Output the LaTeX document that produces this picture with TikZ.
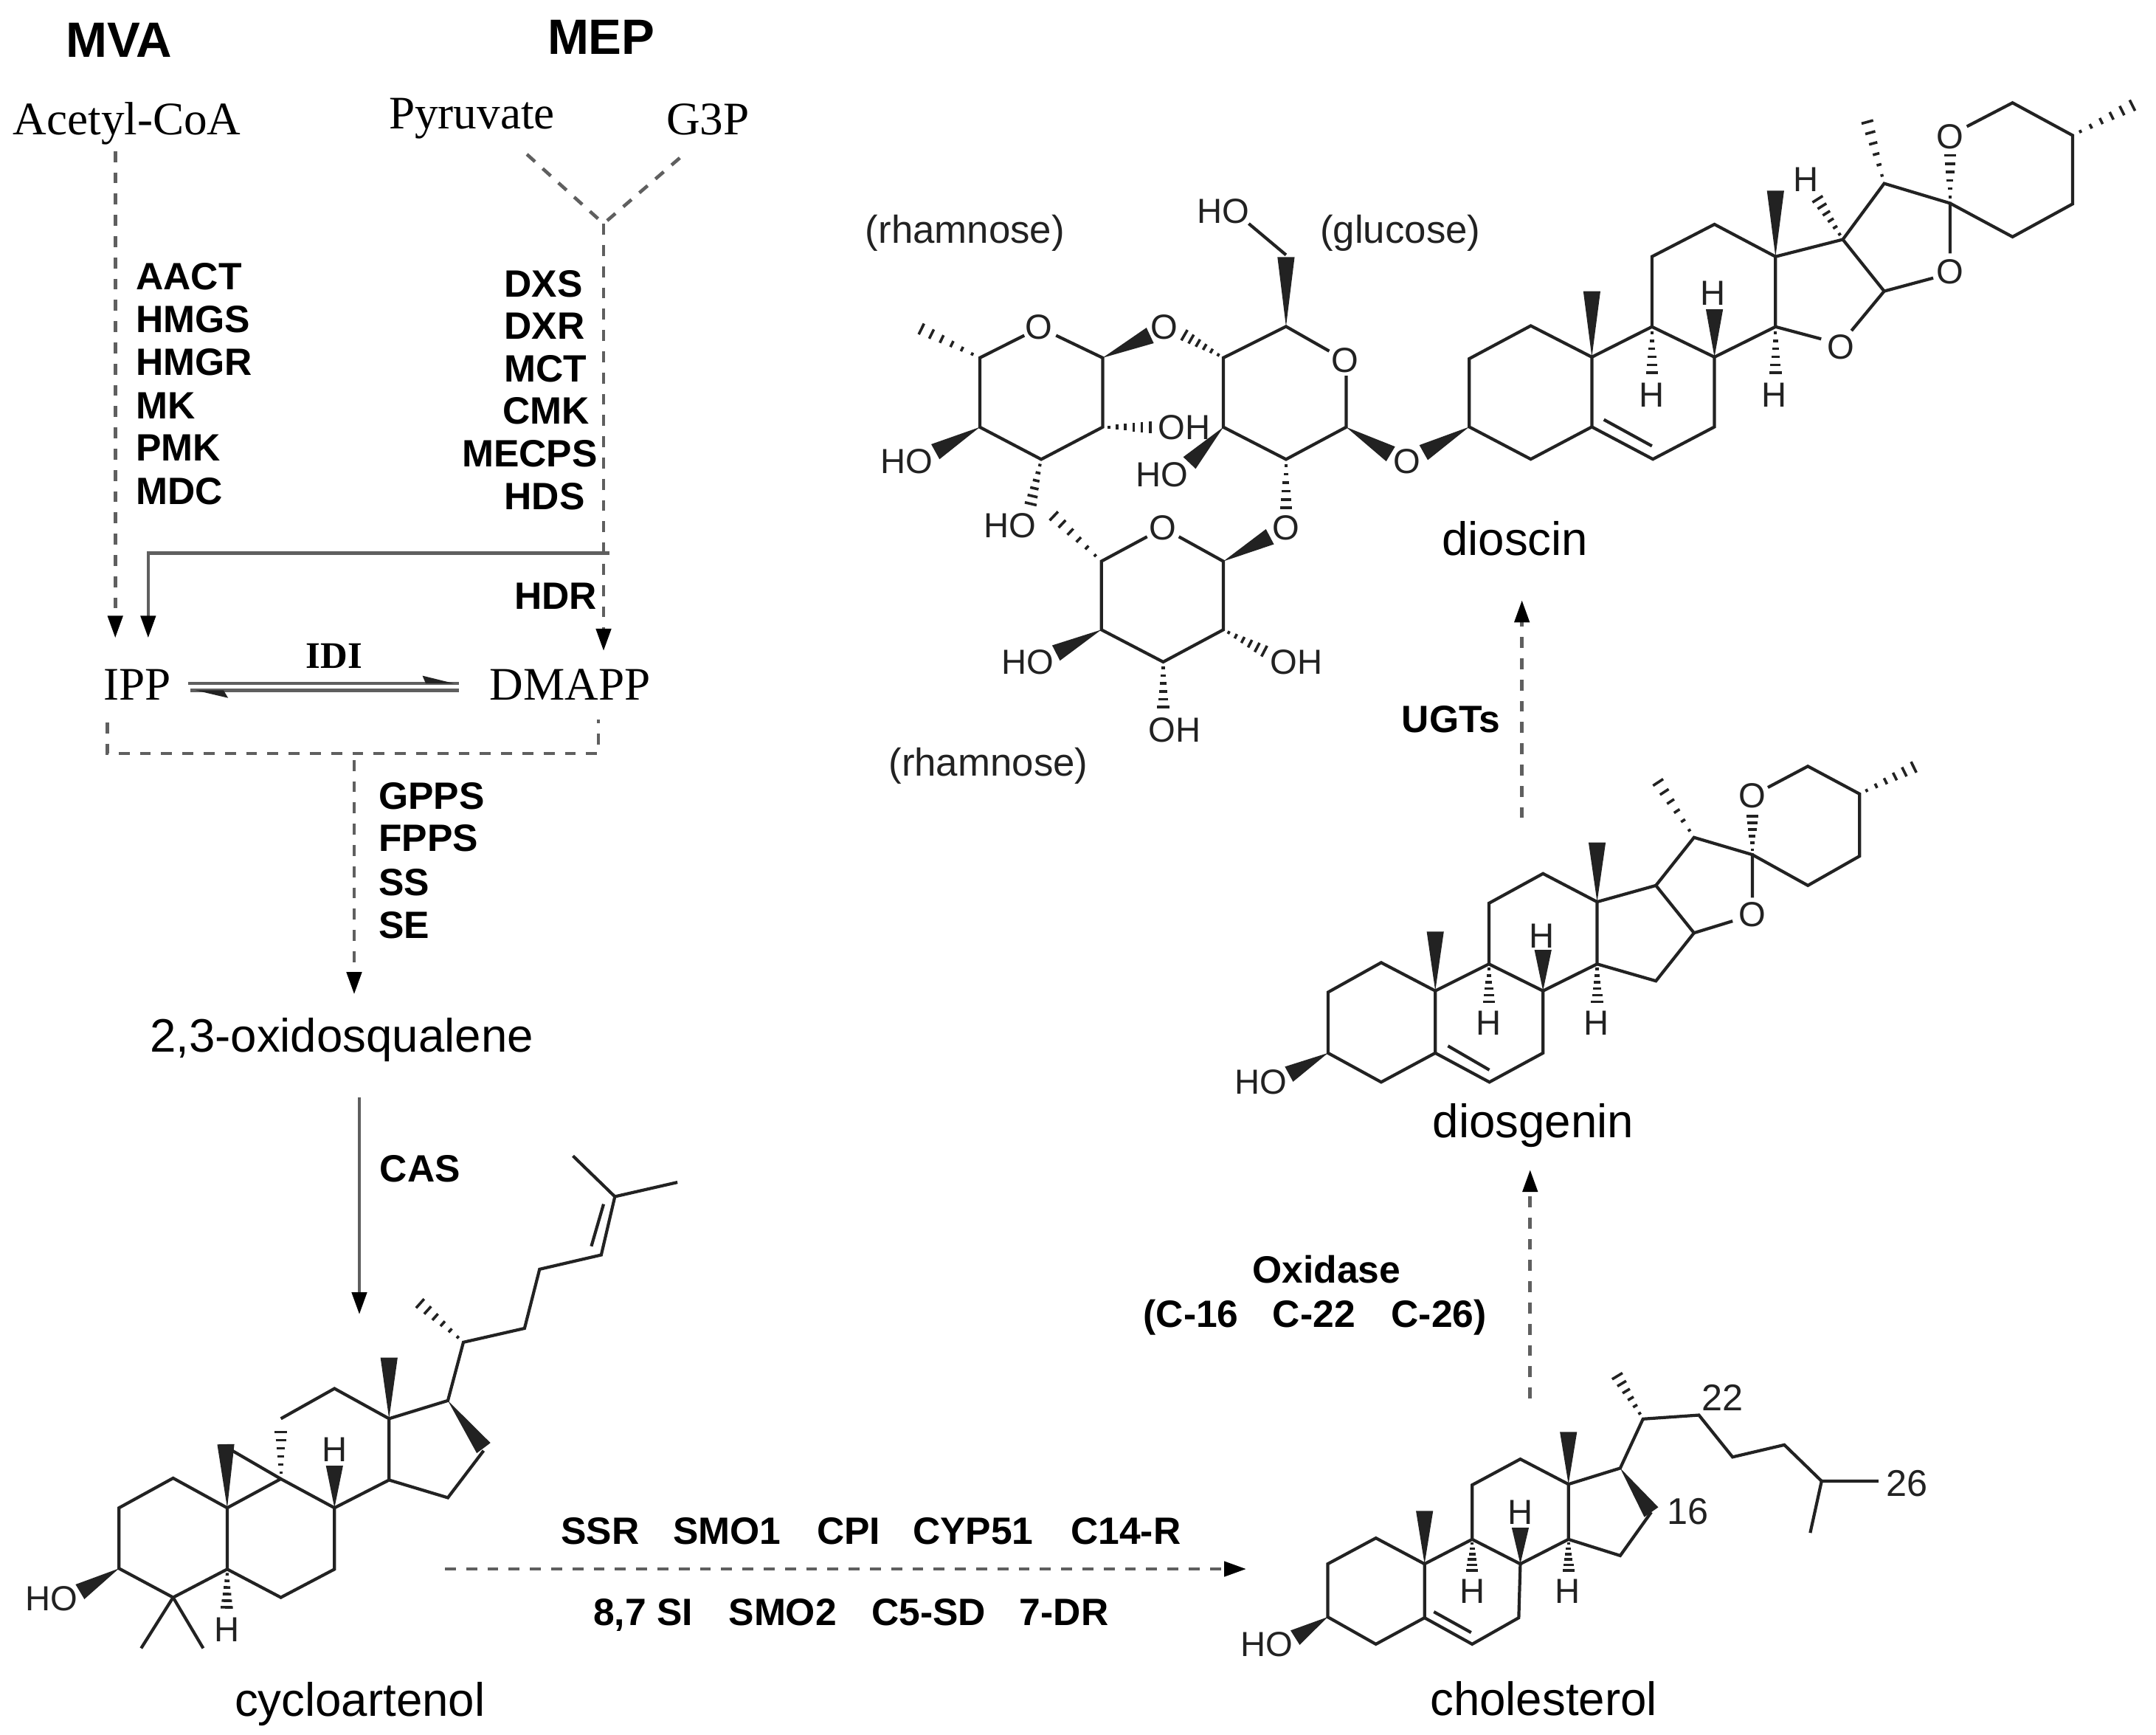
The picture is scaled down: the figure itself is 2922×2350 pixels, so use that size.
\documentclass[tikz,border=0pt]{standalone}
\usepackage{fontspec}
\setmainfont{Liberation Sans}
\newfontfamily\tms{Liberation Serif}
\usetikzlibrary{calc,arrows.meta}
\definecolor{ink}{HTML}{222222}
\definecolor{dashc}{HTML}{5F5F5F}
\tikzset{
  bond/.style={line width=1.05pt,draw=ink,line join=miter,line cap=butt},
  hashb/.style={line width=0.9pt,draw=ink,line cap=butt},
  atom/.style={inner sep=0pt,font=\fontsize{11.8}{14}\selectfont,text=ink},
  num/.style={inner sep=0pt,font=\fontsize{12.6}{15}\selectfont,text=ink},
  sugar/.style={inner sep=0pt,font=\fontsize{13.2}{16}\selectfont,text=ink},
  cpd/.style={inner sep=0pt,font=\fontsize{15.9}{19}\selectfont,text=black},
  precursor/.style={inner sep=0pt,font=\tms\fontsize{15.8}{19}\selectfont,text=black},
  enz/.style={inner sep=0pt,text height=9.3pt,text depth=0pt,font=\bfseries\fontsize{12.9}{15}\selectfont,text=black},
  enzw/.style={enz,anchor=west},
  title/.style={inner sep=0pt,font=\bfseries\fontsize{16.8}{20}\selectfont,text=black},
  dashline/.style={line width=1.15pt,draw=dashc,dash pattern=on 3.7pt off 3.5pt},
  solidline/.style={line width=1.15pt,draw=dashc},
  tip/.style={-{Triangle[length=7.5pt,width=5pt,fill=black,color=black]}},
}
\newcommand\wdg[2]{\coordinate (wA) at (#1);\coordinate (wB) at (#2);
  \fill[ink] (wA) -- ($(wB)!2.9pt!90:(wA)$) -- ($(wB)!2.9pt!-90:(wA)$) -- cycle;}
\newcommand\hsh[2]{\coordinate (wA) at (#1);\coordinate (wB) at (#2);
  \foreach \t in {0.12,0.28,0.44,0.6,0.76,0.92}{
    \coordinate (wP) at ($(wA)!\t!(wB)$);
    \pgfmathsetmacro\hw{0.3+1.9*\t}
    \draw[hashb] ($(wP)!\hw pt!90:(wB)$) -- ($(wP)!\hw pt!-90:(wB)$);}}
\begin{document}
\begin{tikzpicture}[x=0.25pt,y=-0.25pt]
\useasboundingbox (0,0) rectangle (2922,2350);
\fill[white] (0,0) rectangle (2922,2350);

% ---------- upper left: MVA / MEP
\begin{scope}[shift={(0,0)},x=0.25pt/1.568,y=-0.25pt/1.425]
\node[title] (mva) at (253,78) {MVA};
\node[title] (mep) at (1278,72) {MEP};
\node[precursor] (acetyl) at (270,239) {Acetyl-CoA};
\node[precursor] (pyr) at (1003,229) {Pyruvate};
\node[precursor] (g3p) at (1505,230) {G3P};
\node[precursor] (ipp) at (292,1322) {IPP};
\node[precursor] (dmapp) at (1212,1322) {DMAPP};
\node[inner sep=0pt,font=\tms\bfseries\fontsize{12.7}{15}\selectfont] (idi) at (710,1267) {IDI};
\node[enzw] (aact) at (288,533) {AACT};
\node[enzw] (hmgs) at (288,615) {HMGS};
\node[enzw] (hmgr) at (288,698) {HMGR};
\node[enzw] (mk) at (288,782) {MK};
\node[enzw] (pmk) at (288,863) {PMK};
\node[enzw] (mdc) at (288,947) {MDC};
\node[enzw] (dxs) at (1071,547) {DXS};
\node[enzw] (dxr) at (1071,629) {DXR};
\node[enzw] (mct) at (1071,711) {MCT};
\node[enzw] (cmk) at (1068,793) {CMK};
\node[enzw] (mecps) at (981,875) {MECPS};
\node[enzw] (hds) at (1071,957) {HDS};
\node[enzw] (hdr) at (1092,1150) {HDR};
\coordinate (acS) at (245,292);
\coordinate (ippA) at (245,1232);
\coordinate (pyS) at (1120,298);
\coordinate (g3S) at (1445,305);
\coordinate (junc) at (1283,432);
\coordinate (dmA) at (1283,1257);
\coordinate (brR) at (1295,1068);
\coordinate (brL) at (315,1068);
\coordinate (ippB) at (315,1232);
\coordinate (b1) at (228,1395);
\coordinate (b2) at (228,1455);
\coordinate (b3) at (1272,1455);
\coordinate (b4) at (1272,1390);
\draw[dashline,tip] (acS) -- (ippA);
\draw[dashline] (pyS) -- (junc);
\draw[dashline] (g3S) -- (junc);
\draw[dashline,tip] (junc) -- (dmA);
\draw[solidline,tip] (brR) -- (brL) -- (ippB);
\draw[dashline] (b1) -- (b2) -- (b3) -- (b4);
\coordinate (eqA) at (400,1320);
\coordinate (eqB) at (975,1320);
\coordinate (eqC) at (975,1333);
\coordinate (eqD) at (405,1333);
\draw[solidline] (eqA) -- (eqB);
\draw[solidline] (eqC) -- (eqD);
\fill[ink] (898,1305) -- (965,1320) -- (905,1320) -- cycle;
\fill[ink] (415,1333) -- (485,1348) -- (475,1333) -- cycle;
\end{scope}

% ---------- squalene step
\begin{scope}[shift={(400,1000)},x=0.25pt/3,y=-0.25pt/2.851]
\node[enzw] (gpps) at (337,222) {GPPS};
\node[enzw] (fpps) at (337,385) {FPPS};
\node[enzw] (ss) at (337,555) {SS};
\node[enzw] (se) at (337,720) {SE};
\coordinate (sqS) at (240,85);
\coordinate (sqE) at (240,990);
\draw[dashline,tip] (sqS) -- (sqE);
\end{scope}
\node[cpd] (oxs) at (463,1409) {2,3-oxidosqualene};
\coordinate (casS) at (487,1487);
\coordinate (casE) at (487,1781);
\draw[solidline,tip] (casS) -- (casE);

% ---------- sugars
\begin{scope}[shift={(1150,100)},x=0.25pt/1.742,y=-0.25pt/1.65]
\node[sugar] (rh1) at (275,356) {(rhamnose)};
\node[sugar] (glc) at (1303,356) {(glucose)};
\node[sugar] (rh2) at (330,1547) {(rhamnose)};
\node[atom] (o1) at (450,567) {O};
\node[atom] (o2) at (745,567) {O};
\node[atom] (oh1) at (793,790) {OH};
\node[atom] (ho1) at (137,866) {HO};
\node[atom] (ho2) at (382,1010) {HO};
\node[atom] (o3) at (1172,640) {O};
\node[atom] (ho3) at (885,308) {HO};
\node[atom] (o4) at (1318,866) {O};
\node[atom] (ho4) at (740,897) {HO};
\node[atom] (o5) at (1032,1015) {O};
\node[atom] (o6) at (742,1015) {O};
\node[atom] (ho5) at (423,1316) {HO};
\node[atom] (oh2) at (1058,1316) {OH};
\node[atom] (oh3) at (770,1467) {OH};
\draw[bond] (415,585) -- (310,635) -- (310,790) -- (455,862) -- (600,790) -- (600,635) -- (490,585);
\hsh{310,635}{160,565}
\wdg{600,635}{712,585}
\hsh{885,635}{785,580}
\hsh{600,790}{722,790}
\wdg{310,790}{205,845}
\hsh{455,862}{428,970}
\draw[bond] (1135,620) -- (1033,565) -- (885,635) -- (885,790) -- (1033,862) -- (1175,790) -- (1175,675);
\wdg{1033,565}{1033,410}
\draw[bond] (1033,405) -- (945,335);
\wdg{1175,790}{1280,850}
\wdg{885,790}{805,870}
\hsh{1033,862}{1033,980}
\draw[bond] (705,1035) -- (597,1090) -- (597,1243) -- (743,1315) -- (885,1243) -- (885,1090) -- (780,1035);
\hsh{597,1090}{475,980}
\wdg{885,1090}{995,1035}
\wdg{597,1243}{490,1295}
\hsh{885,1243}{990,1295}
\hsh{743,1315}{743,1425}
\end{scope}

% ---------- dioscin aglycone
\begin{scope}[shift={(1900,100)},x=0.25pt/1.534,y=-0.25pt/2.24]
\node[cpd] (dioscin) at (235,1410) {dioscin};
\node[atom] (d1) at (1140,190) {O};
\node[atom] (d2) at (1140,600) {O};
\node[atom] (d3) at (913,830) {O};
\node[atom] (dh1) at (840,322) {H};
\node[atom] (dh2) at (647,665) {H};
\node[atom] (dh3) at (520,975) {H};
\node[atom] (dh4) at (775,975) {H};
\wdg{140,1072}{45,1150}
\draw[bond] (140,1072) -- (140,865) -- (268,765) -- (395,860) -- (395,1072) -- (268,1170) -- cycle;
\draw[bond] (395,860) -- (520,768) -- (650,860) -- (650,1072) -- (522,1170) -- (395,1072);
\draw[bond] (420,1050) -- (520,1130);
\draw[bond] (520,768) -- (520,555) -- (650,457) -- (777,555) -- (777,768) -- (650,860);
\draw[bond] (777,768) -- (872,805);
\draw[bond] (935,780) -- (1003,660) -- (917,503) -- (777,555);
\draw[bond] (1003,660) -- (1105,620);
\draw[bond] (1140,545) -- (1140,393) -- (1003,333) -- (917,503);
\draw[bond] (1140,393) -- (1270,495) -- (1395,395) -- (1395,187) -- (1270,88) -- (1175,160);
\hsh{1140,393}{1140,235}
\hsh{1395,187}{1530,88}
\hsh{1003,333}{965,130}
\hsh{917,503}{860,370}
\wdg{777,555}{777,355}
\wdg{395,860}{395,660}
\wdg{650,860}{650,715}
\hsh{520,768}{520,920}
\hsh{777,768}{777,920}
\end{scope}

% ---------- UGT arrow
\begin{scope}[shift={(1850,780)},x=0.25pt/3,y=-0.25pt/3]
\node[enz] (ugts) at (350,582) {UGTs};
\coordinate (ugS) at (638,985);
\coordinate (ugE) at (638,100);
\draw[dashline,tip] (ugS) -- (ugE);
\end{scope}

% ---------- diosgenin
\begin{scope}[shift={(1650,1000)},x=0.25pt/1.568,y=-0.25pt/2.613]
\node[cpd] (diosgenin) at (671,1372) {diosgenin};
\node[atom] (g1) at (1137,205) {O};
\node[atom] (g2) at (1137,625) {O};
\node[atom] (gh0) at (93,1218) {HO};
\node[atom] (gh2) at (690,700) {H};
\node[atom] (gh3) at (577,1010) {H};
\node[atom] (gh4) at (805,1010) {H};
\draw[bond] (235,1115) -- (235,900) -- (348,795) -- (463,895) -- (463,1115) -- (348,1218) -- cycle;
\draw[bond] (463,895) -- (577,800) -- (692,895) -- (692,1115) -- (578,1218) -- (463,1115);
\draw[bond] (490,1090) -- (578,1175);
\draw[bond] (577,800) -- (577,585) -- (692,480) -- (807,580) -- (807,800) -- (692,895);
\draw[bond] (807,800) -- (932,860) -- (1013,690) -- (932,522) -- (807,580);
\draw[bond] (1013,690) -- (1095,648);
\draw[bond] (1137,565) -- (1137,413) -- (1013,352) -- (932,522);
\draw[bond] (1137,413) -- (1255,522) -- (1365,418) -- (1365,198) -- (1255,100) -- (1170,175);
\hsh{1137,413}{1137,265}
\hsh{1365,198}{1490,95}
\hsh{1013,352}{930,140}
\wdg{807,580}{807,370}
\wdg{463,895}{463,685}
\wdg{692,895}{692,750}
\hsh{577,800}{577,945}
\hsh{807,800}{807,945}
\wdg{235,1115}{152,1190}
\end{scope}

% ---------- oxidase arrow
\begin{scope}[shift={(1500,1550)},x=0.25pt/2.41,y=-0.25pt/3]
\node[enz] (oxid) at (718,510) {Oxidase};
\node[enz] (c16) at (275,690) {(C-16};
\node[enz] (c22) at (677,690) {C-22};
\node[enz] (c26) at (1085,690) {C-26)};
\coordinate (oxS) at (1383,1035);
\coordinate (oxE) at (1383,105);
\draw[dashline,tip] (oxS) -- (oxE);
\end{scope}

% ---------- cholesterol
\begin{scope}[shift={(1650,1800)},x=0.25pt/1.425,y=-0.25pt/2.851]
\node[cpd] (chol) at (630,1430) {cholesterol};
\node[atom] (ch0) at (95,1220) {HO};
\node[atom] (ch1) at (585,710) {H};
\node[atom] (ch2) at (492,1015) {H};
\node[atom] (ch3) at (676,1015) {H};
\node[num] (n22) at (975,268) {22};
\node[num] (n26) at (1332,600) {26};
\node[num] (n16) at (908,708) {16};
\draw[bond] (213,1115) -- (213,910) -- (306,810) -- (400,910) -- (400,1118) -- (306,1220) -- cycle;
\draw[bond] (400,910) -- (492,815) -- (585,910) -- (582,1118) -- (492,1220) -- (400,1118);
\draw[bond] (418,1095) -- (490,1175);
\draw[bond] (492,815) -- (492,605) -- (585,505) -- (678,602) -- (678,815) -- (585,910);
\draw[bond] (678,815) -- (778,878) -- (838,710);
\draw[bond] (678,602) -- (778,540) -- (822,350) -- (930,335) -- (995,497) -- (1095,450) -- (1167,590) -- (1277,590);
\draw[bond] (1167,590) -- (1145,790);
\wdg{778,540}{838,710}
\hsh{822,350}{768,170}
\wdg{678,602}{678,400}
\wdg{400,910}{400,705}
\wdg{585,910}{585,770}
\hsh{492,815}{492,945}
\hsh{678,815}{678,945}
\wdg{213,1115}{150,1195}
\end{scope}

% ---------- cycloartenol
\begin{scope}[shift={(0,1550)},x=0.25pt/1.568,y=-0.25pt/1.96]
\node[cpd] (cyclo) at (765,1488) {cycloartenol};
\node[enz] (cas) at (893,64) {CAS};
\node[atom] (cy0) at (110,1208) {HO};
\node[atom] (cy1) at (711,813) {H};
\node[atom] (cy2) at (482,1290) {H};
\draw[bond] (253,1128) -- (253,967) -- (368,888) -- (483,967) -- (483,1130) -- (368,1205) -- cycle;
\draw[bond] (483,1130) -- (597,1205) -- (711,1130) -- (711,967) -- (597,890) -- (483,967);
\draw[bond] (480,805) -- (597,890);
\draw[bond] (597,730) -- (711,650) -- (827,730) -- (827,893) -- (711,967);
\draw[bond] (827,893) -- (952,940) -- (1028,815);
\draw[bond] (827,730) -- (952,682) -- (985,527) -- (1115,490) -- (1147,333) -- (1278,295) -- (1307,140) -- (1218,32);
\draw[bond] (1307,140) -- (1440,102);
\draw[bond] (1257,272) -- (1283,160);
\draw[bond] (368,1205) -- (300,1340);
\draw[bond] (368,1205) -- (432,1340);
\wdg{483,967}{480,798}
\hsh{597,890}{597,755}
\wdg{952,682}{1028,808}
\wdg{827,730}{827,568}
\wdg{711,967}{711,855}
\hsh{483,1130}{482,1240}
\hsh{985,527}{885,415}
\wdg{253,1128}{170,1190}
\end{scope}

% ---------- bottom arrow and labels
\coordinate (btS) at (603,2126);
\coordinate (btE) at (1689,2126);
\draw[dashline,tip] (btS) -- (btE);
\begin{scope}[shift={(600,2000)},x=0.25pt/1.363,y=-0.25pt/2.96]
\node[enz] (ssr) at (291,218) {SSR};
\node[enz] (smo1) at (525,218) {SMO1};
\node[enz] (cpi) at (750,218) {CPI};
\node[enz] (cyp) at (980,218) {CYP51};
\node[enz] (c14) at (1262,218) {C14-R};
\node[enz] (si) at (370,545) {8,7 SI};
\node[enz] (smo2) at (628,545) {SMO2};
\node[enz] (c5) at (898,545) {C5-SD};
\node[enz] (dr) at (1148,545) {7-DR};
\end{scope}
\end{tikzpicture}
\end{document}
